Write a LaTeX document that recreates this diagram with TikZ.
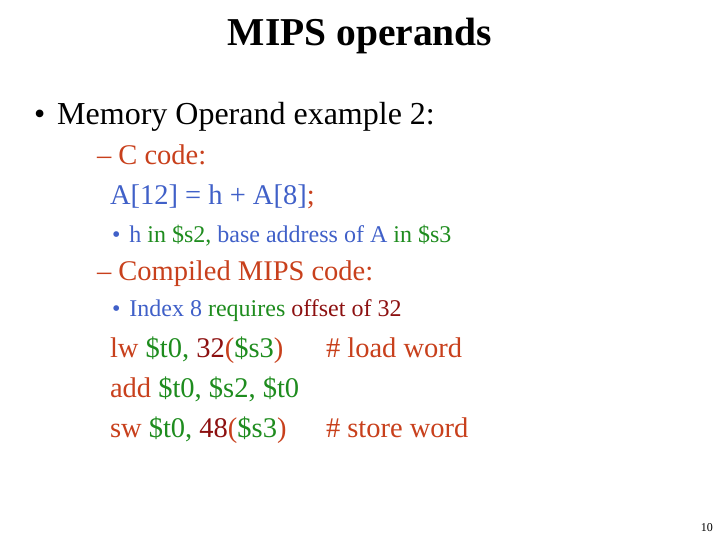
\documentclass[tikz,border=0pt]{standalone}
\usepackage{fontspec}
\setmainfont{Liberation Serif}
\definecolor{cor}{HTML}{C8401C}
\definecolor{cbl}{HTML}{4060C8}
\definecolor{cgr}{HTML}{1E8C1E}
\definecolor{cdr}{HTML}{8C1010}
\newcommand{\fs}[1]{\fontsize{#1}{#1}\selectfont}
\begin{document}
\begin{tikzpicture}[x=1pt,y=-1pt,
  txt/.style={anchor=base west,inner sep=0pt,outer sep=0pt}]
\useasboundingbox (0,0) rectangle (720,540);
\node[anchor=base,inner sep=0pt] (title) at (360,46) {\fs{39.5}\bfseries MIPS operands};
\node[txt] (l1) at (34,125) {\fs{32}\textbullet\hspace{12pt}Memory Operand example 2:};
\node[txt] (l2) at (97,165) {\fs{28.5}\color{cor}– C code:};
\node[txt] (l3) at (110,205) {\fs{28.5}\color{cbl}A[12] = h + A[8]\textcolor{cor}{;}};
\node[txt] (l4) at (112,242) {\fs{24}\color{cbl}\textbullet\hspace{9pt}h \textcolor{cgr}{in \$s2,} base address of A \textcolor{cgr}{in \$s3}};
\node[txt] (l5) at (97,280) {\fs{28.5}\color{cor}– Compiled MIPS code:};
\node[txt] (l6) at (112,316) {\fs{24}\color{cbl}\textbullet\hspace{9pt}Index 8 \textcolor{cgr}{requires} \textcolor{cdr}{offset of 32}};
\node[txt] (c1) at (110,357) {\fs{28.5}\color{cor}lw \textcolor{cgr}{\$t0,} \textcolor{cdr}{32}(\textcolor{cgr}{\$s3})};
\node[txt] (m1) at (326,357) {\fs{28.5}\color{cor}\# load word};
\node[txt] (c2) at (110,397) {\fs{28.5}\color{cor}add \textcolor{cgr}{\$t0, \$s2, \$t0}};
\node[txt] (c3) at (110,437) {\fs{28.5}\color{cor}sw \textcolor{cgr}{\$t0,} \textcolor{cdr}{48}(\textcolor{cgr}{\$s3})};
\node[txt] (m3) at (326,437) {\fs{28.5}\color{cor}\# store word};
\node[anchor=base east,inner sep=0pt] (pg) at (713,531) {\fs{12}10};
\end{tikzpicture}
\end{document}
